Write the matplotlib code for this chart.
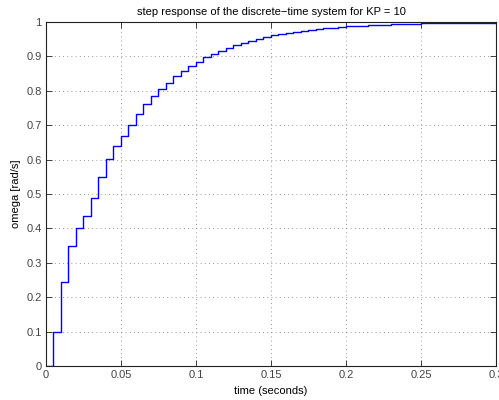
import numpy as np
from matplotlib import pyplot as plt

# sample period of the discrete-time system
Ts = 0.005

# omega samples, one per Ts starting at t = 0
omega = [
    0.000, 0.100, 0.243, 0.350, 0.400, 0.435, 0.487, 0.548, 0.602, 0.639,
    0.670, 0.701, 0.732, 0.762, 0.786, 0.806, 0.824, 0.842, 0.857, 0.873,
    0.884, 0.897, 0.907, 0.916, 0.925, 0.933, 0.940, 0.946, 0.951, 0.956,
    0.961, 0.965, 0.969, 0.972, 0.975, 0.977, 0.980, 0.982, 0.984, 0.985,
    0.987, 0.988, 0.989, 0.990, 0.991, 0.992, 0.993, 0.994, 0.994, 0.995,
    0.996, 0.996, 0.996, 0.997, 0.997, 0.997, 0.998, 0.998, 0.998, 0.998,
    0.999,
]
xticks = [0, 0.05, 0.1, 0.15, 0.2, 0.25, 0.3]
xticklabels = ['0', '0.05', '0.1', '0.15', '0.2', '0.25', '0.3']
yticks = [0, 0.1, 0.2, 0.3, 0.4, 0.5, 0.6, 0.7, 0.8, 0.9, 1]
yticklabels = ['0', '0.1', '0.2', '0.3', '0.4', '0.5', '0.6', '0.7', '0.8', '0.9', '1']

plt.rcParams['font.family'] = ['Liberation Sans', 'DejaVu Sans']

t = np.arange(len(omega)) * Ts

fig = plt.figure(figsize=(4.99, 4.0), dpi=100)
ax = fig.add_axes([0.092, 0.085, 0.902, 0.86])

ax.step(t, omega, where='post', color='#0000ff', linewidth=1.0)

ax.set_xlim(0, 0.3)
ax.set_ylim(0, 1)
ax.set_xticks(xticks)
ax.set_xticklabels(xticklabels)
ax.set_yticks(yticks)
ax.set_yticklabels(yticklabels)
ax.tick_params(direction='in', top=True, right=True, length=4, width=0.6,
               labelsize=8, colors='#222222', labelcolor='#444444', pad=3)
for sp in ax.spines.values():
    sp.set_linewidth(0.8)
    sp.set_color('#222222')

ax.grid(True, linestyle=(0, (1, 4)), color='#777777', linewidth=0.6)

ax.set_title('step response of the discrete\u2212time system for KP = 10', fontsize=8, pad=5)
ax.set_xlabel('time (seconds)', fontsize=8, labelpad=4)
ax.set_ylabel('omega [rad/s]', fontsize=8, labelpad=4)

fig.savefig('out.png', dpi=100)
